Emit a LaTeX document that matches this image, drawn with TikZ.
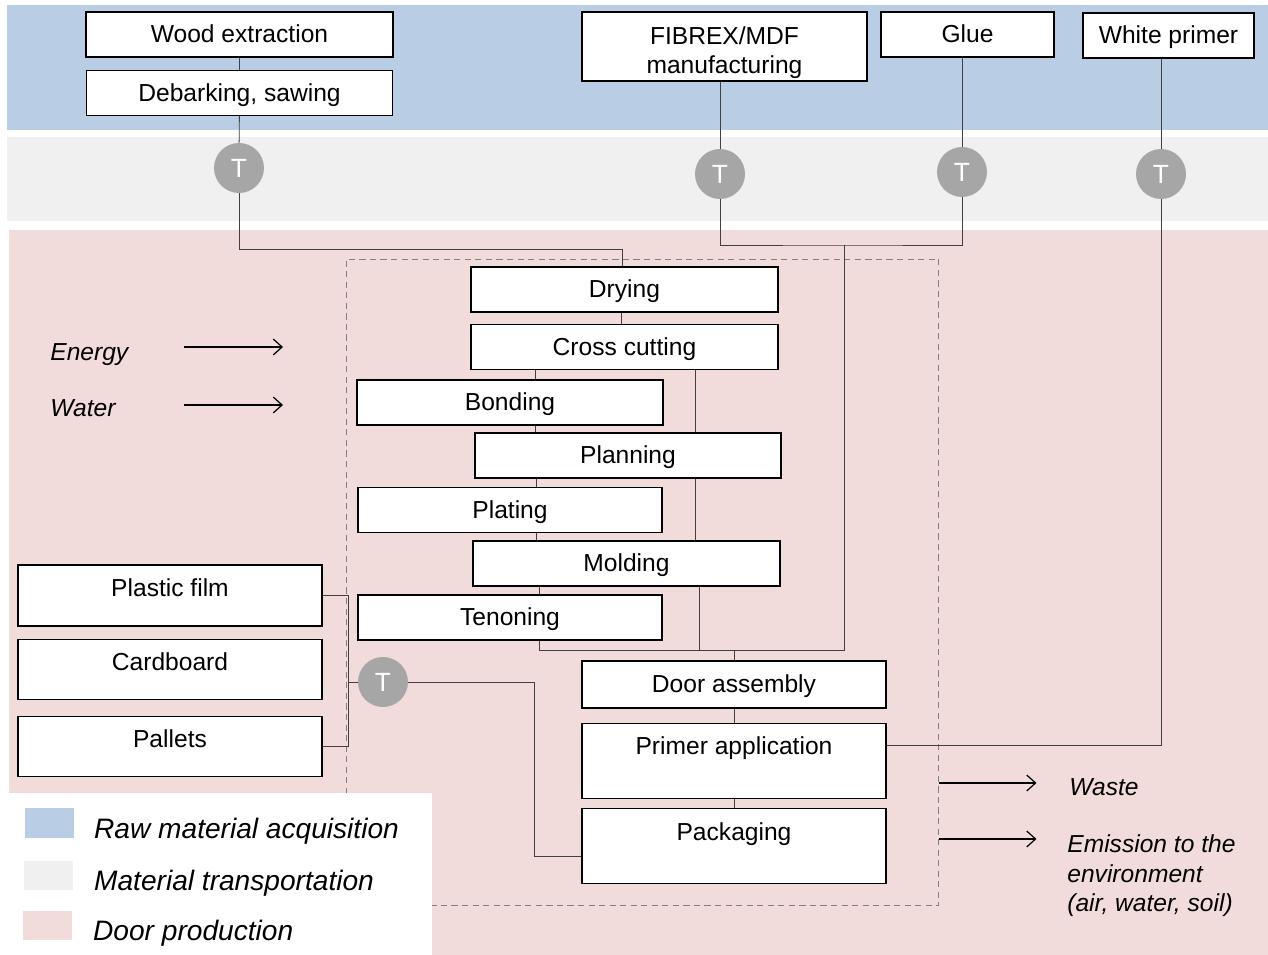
\documentclass[tikz,border=0pt]{standalone}
\usepackage{fontspec}
\setmainfont{Liberation Sans}
\usepackage{xcolor}
\usepackage{tikz}
\usetikzlibrary{arrows.meta,positioning,calc}

\definecolor{rawblue}{HTML}{B9CDE5}
\definecolor{transgray}{HTML}{F0F0F0}
\definecolor{doorpink}{HTML}{F2DCDB}
\definecolor{tgray}{HTML}{A6A6A6}
\definecolor{linegray}{HTML}{404040}

\pgfdeclarelayer{bands}
\pgfdeclarelayer{wires}
\pgfsetlayers{bands,wires,main}

\begin{document}
\begin{tikzpicture}[
    x=0.02cm, y=-0.02cm,
    font=\fontsize{14}{17}\selectfont,
    box/.style={rectangle, draw=black, line width=0.8pt, fill=white, inner sep=0pt, align=center},
    stage/.style={box, minimum width=6.12cm, minimum height=0.9cm, text height=0.35cm, text depth=0.02cm},
    topbox/.style={box, minimum width=6.08cm, text height=0.35cm, text depth=#1},
    trans/.style={circle, fill=tgray, text=white, minimum size=1cm, inner sep=0pt, font=\fontsize{15}{17}\selectfont},
    link/.style={draw=linegray, line width=0.5pt},
    flowarrow/.style={-{Straight Barb[length=5pt,width=9pt]}, line width=0.7pt},
    boundary/.style={draw=gray, dash pattern=on 3.5pt off 2.5pt, line width=0.6pt, minimum width=11.86cm, minimum height=12.94cm, inner sep=0pt},
    note/.style={font=\fontsize{14}{17}\selectfont\itshape, inner sep=0pt, align=left},
    single/.style={note, text height=0.35cm, text depth=0pt},
    swatch/.style={minimum width=1cm, minimum height=0.6cm, inner sep=0pt},
    legend/.style={font=\fontsize{16}{19}\selectfont\itshape, inner sep=0pt, text height=0.4cm, text depth=0pt, yshift=-0.11cm}
]
    \useasboundingbox (0,0) rectangle (1268,955);

    % life cycle stages and system boundary
    \begin{pgfonlayer}{bands}
        \fill [rawblue] (7,5) rectangle (1268,130);
        \fill [transgray] (7,137) rectangle (1268,221);
        \fill [doorpink] (9,230) rectangle (1268,955);
        \node [boundary] (scope) at (642.5,582.5) {};
        \fill [white] (9,793) rectangle (432,955);
    \end{pgfonlayer}

    % raw materials
    \node [stage, minimum width=6.14cm] (wood) at (239.5,34.5) {Wood extraction};
    \node [stage, below=0.24cm of wood] (debark) {Debarking, sawing};
    \node [box, minimum width=5.7cm, minimum height=1.38cm] (fibrex) at (724.5,46.5) {\rule{0pt}{0.6cm}FIBREX/MDF\\manufacturing};
    \node [stage, minimum width=3.46cm] (glue) at (967.5,34.5) {Glue};
    \node [stage, minimum width=3.42cm] (primer) at (1168.5,35.5) {White primer};

    % transport
    \node [trans] (tWood) at (239,168) {T};
    \node [trans] (tFibrex) at (720,174) {T};
    \node [trans] (tGlue) at (962,172) {T};
    \node [trans] (tPrimer) at (1161,174) {T};
    \node [trans] (tPack) at (383,682) {T};

    % door production
    \node [stage, minimum width=6.14cm] (drying) at (624.5,289.5) {Drying};
    \node [stage, minimum width=6.14cm, below=0.22cm of drying] (cutting) {Cross cutting};
    \node [stage] (bonding) at (510,402.5) {Bonding};
    \node [stage] (planning) at (628,455.5) {Planning};
    \node [stage, minimum width=6.08cm] (plating) at (510,510) {Plating};
    \node [stage, minimum width=6.14cm] (molding) at (626.5,563.5) {Molding};
    \node [stage, minimum width=6.08cm] (tenoning) at (510,617.5) {Tenoning};
    \node [stage, minimum width=6.08cm, minimum height=0.94cm] (assembly) at (734,684.5) {Door assembly};
    \node [topbox=0.6cm, minimum height=1.5cm, below=0.28cm of assembly] (primerapp) {Primer application};
    \node [topbox=0.6cm, minimum height=1.5cm, below=0.18cm of primerapp] (packaging) {Packaging};

    % packaging materials
    \node [topbox=0.32cm, minimum height=1.22cm] (film) at (170,595.5) {Plastic film};
    \node [topbox=0.32cm, minimum height=1.2cm, below=0.24cm of film] (cardboard) {Cardboard};
    \node [topbox=0.32cm, minimum height=1.2cm, below=0.32cm of cardboard] (pallets) {Pallets};

    % junctions
    \coordinate (jDry) at (622,249);
    \coordinate (jTop) at (844,245);
    \coordinate (jBot) at (844,650);
    \coordinate (jPack) at (348,682);

    % connections
    \begin{pgfonlayer}{wires}
        \draw [link] (wood) -- (debark);
        \draw [link] (debark) -- (tWood);
        \draw [link] (tWood) |- (jDry) -- (jDry |- drying.north);
        \draw [link] (tFibrex |- fibrex.south) -- (tFibrex);
        \draw [link] (tGlue |- glue.south) -- (tGlue);
        \draw [link] (tPrimer |- primer.south) -- (tPrimer);
        \draw [link] (tFibrex) |- (jTop) -| (tGlue);
        \draw [link] (jTop) -- (jBot) -| (539,0 |- tenoning.south);
        \draw [link] (621,0 |- drying.south) -- (621,0 |- cutting.north);
        \foreach \a/\b/\x in {cutting/bonding/535, bonding/planning/535, planning/plating/536, plating/molding/536, molding/tenoning/539}
            \draw [link] (\x,0 |- \a.south) -- (\x,0 |- \b.north);
        \draw [link] (695,0 |- cutting.south) -- (695,0 |- molding.north);
        \draw [link] (699,0 |- molding.south) -- (699,0 |- jBot);
        \draw [link] (assembly.north |- jBot) -- (assembly);
        \draw [link] (assembly) -- (primerapp);
        \draw [link] (primerapp) -- (packaging);
        \draw [link] ($(primerapp.east)+(0,-15)$) -| (tPrimer);
        \draw [link] (film.east) -| (jPack);
        \draw [link] (pallets.east) -| (jPack);
        \draw [link] (jPack) -- (tPack);
        \draw [link] (tPack) -| ($(packaging.west)+(-47,10)$) -- ($(packaging.west)+(0,10)$);
    \end{pgfonlayer}

    % inputs and outputs
    \node [single, anchor=west] (energy) at (50,352) {Energy};
    \node [single, anchor=west] (water) at (50,408) {Water};
    \draw [flowarrow] ($(energy.west)+(134,-5)$) -- ++(99,0);
    \draw [flowarrow] ($(water.west)+(134,-3)$) -- ++(99,0);
    \node [single, anchor=west] (waste) at (1069,787) {Waste};
    \node [note, anchor=north west] (emission) at (1067,834) {Emission to the\\environment\\(air, water, soil)};
    \draw [flowarrow] (scope.east |- 0,783) -- ++(97,0);
    \draw [flowarrow] (scope.east |- 0,839) -- ++(97,0);

    % legend
    \node [swatch, fill=rawblue] (swRaw) at (49.5,823) {};
    \node [swatch, fill=transgray] (swTrans) at (48.5,875.5) {};
    \node [swatch, fill=doorpink] (swDoor) at (47.5,925.5) {};
    \node [legend, right=0.38cm of swRaw] (lgRaw) {Raw material acquisition};
    \node [legend, right=0.4cm of swTrans] (lgTrans) {Material transportation};
    \node [legend, right=0.4cm of swDoor] (lgDoor) {Door production};
\end{tikzpicture}
\end{document}
